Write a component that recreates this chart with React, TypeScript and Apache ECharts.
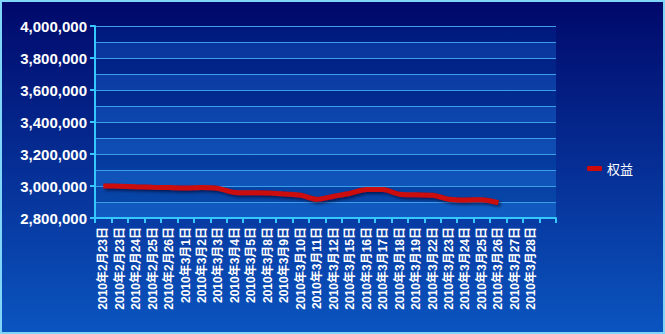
import React, { useEffect, useRef } from "react";
import * as echarts from "echarts";

const categories: string[] = [
  "2010年2月23日", "2010年2月23日", "2010年2月24日", "2010年2月25日", "2010年2月26日",
  "2010年3月1日", "2010年3月2日", "2010年3月3日", "2010年3月4日", "2010年3月5日",
  "2010年3月8日", "2010年3月9日", "2010年3月10日", "2010年3月11日", "2010年3月12日",
  "2010年3月15日", "2010年3月16日", "2010年3月17日", "2010年3月18日", "2010年3月19日",
  "2010年3月22日", "2010年3月23日", "2010年3月24日", "2010年3月25日", "2010年3月26日",
  "2010年3月27日", "2010年3月28日", "",
];

const equity: (number | null)[] = [
  3000000, 2998800, 2995600, 2992500, 2990000, 2987500, 2990600, 2984400, 2959400, 2957500,
  2956250, 2950000, 2942500, 2916900, 2935600, 2954400, 2978750, 2977500, 2948750, 2945000,
  2942500, 2917500, 2912500, 2914400, 2895600, null, null, null,
];

const seriesName = "权益";
const yMin = 2800000;
const yMax = 4000000;

export default function App() {
  const ref = useRef<HTMLDivElement>(null);
  useEffect(() => {
    document.body.style.margin = "0";
    if (!ref.current) return;
    const chart = echarts.init(ref.current, undefined, { renderer: "svg" });
    chart.setOption({
      animation: false,
      backgroundColor: new echarts.graphic.LinearGradient(0, 0, 0, 1, [
        { offset: 0, color: "#00086a" },
        { offset: 1, color: "#0b55c0" },
      ]),
      graphic: [
        {
          type: "rect",
          shape: { x: 1, y: 1, width: 663, height: 332 },
          style: { fill: "none", stroke: "#7fd6f8", lineWidth: 2 },
          z: 100,
          silent: true,
        },
      ],
      grid: {
        left: 95,
        right: 109,
        top: 26,
        bottom: 116,
        show: true,
        borderWidth: 0,
        backgroundColor: new echarts.graphic.LinearGradient(0, 0, 0, 1, [
          { offset: 0, color: "#001c86" },
          { offset: 1, color: "#0a56bc" },
        ]),
      },
      legend: {
        orient: "vertical",
        left: 582,
        top: 157,
        itemWidth: 15,
        itemHeight: 5,
        itemGap: 10,
        icon: "roundRect",
        textStyle: { color: "#ffffff", fontSize: 13, fontFamily: "'Noto Sans CJK SC', sans-serif" },
        data: [seriesName],
      },
      xAxis: {
        type: "category",
        data: categories,
        boundaryGap: true,
        axisLine: { lineStyle: { color: "#35c8ff", width: 2 } },
        axisTick: { show: true, length: 5, interval: 0, lineStyle: { color: "#35c8ff", width: 2 } },
        axisLabel: {
          interval: 0,
          rotate: 90,
          margin: 9,
          color: "#ffffff",
          fontSize: 12,
          fontWeight: "bold",
          fontFamily: "'Liberation Sans', 'Noto Sans CJK SC', sans-serif",
        },
        splitLine: { show: false },
      },
      yAxis: [
        {
          type: "value",
          min: yMin,
          max: yMax,
          interval: 200000,
          axisLine: { show: true, lineStyle: { color: "#35c8ff", width: 2 } },
          axisTick: { show: true, length: 5, lineStyle: { color: "#35c8ff", width: 2 } },
          axisLabel: {
            margin: 8,
            color: "#ffffff",
            fontSize: 15,
            fontWeight: "bold",
            fontFamily: "'Liberation Sans', Arial, sans-serif",
            formatter: (v: number) => v.toLocaleString("en-US"),
          },
          splitLine: { show: false },
        },
        {
          type: "value",
          min: yMin,
          max: yMax,
          interval: 100000,
          position: "left",
          axisLine: { show: false },
          axisTick: { show: false },
          axisLabel: { show: false },
          splitLine: { show: true, lineStyle: { color: "#3d9ee8", width: 1 } },
          splitArea: {
            show: true,
            areaStyle: { color: ["rgba(40,110,210,0.25)", "rgba(0,10,80,0.15)"] },
          },
        },
      ],
      series: [
        {
          name: seriesName,
          type: "line",
          yAxisIndex: 0,
          data: equity,
          smooth: 0.3,
          showSymbol: false,
          symbol: "none",
          itemStyle: { color: "#cc0a0a" },
          lineStyle: {
            color: "#cc0a0a",
            width: 5,
            shadowColor: "rgba(0,0,30,0.6)",
            shadowBlur: 3,
            shadowOffsetX: 2,
            shadowOffsetY: 2,
          },
          z: 5,
        },
      ],
    });
    return () => chart.dispose();
  }, []);
  return <div ref={ref} style={{ width: 665, height: 334 }} />;
}
